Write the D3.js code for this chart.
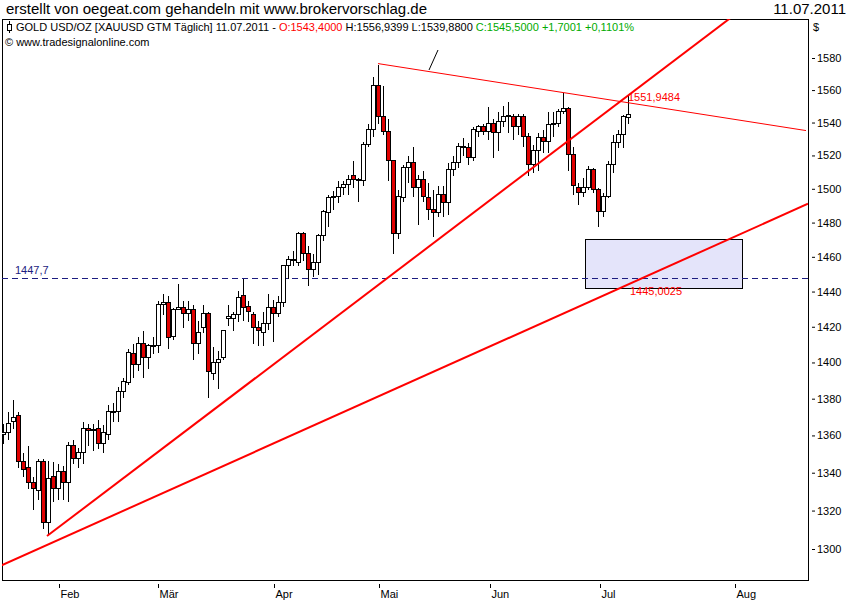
<!DOCTYPE html>
<html>
<head>
<meta charset="utf-8">
<script src="https://cdn.jsdelivr.net/npm/d3@7"></script>
<style>
  body { margin: 0; background: #fff; }
  text { font-family: "Liberation Sans", Arial, sans-serif; }
</style>
</head>
<body>
<div id="chart"></div>
<script>
// daily candles, 13.01.2011 .. 11.07.2011
const opens  = [1361,1362,1368,1371,1346,1343,1335,1331,1346,1314,1338,1332,1341,1335,1355,1348,1351,1364,1363,1364,1356,1361,1373,1373,1384,1389,1405,1399,1411,1403,1409,1410,1433,1434,1415,1430,1431,1428,1430,1411,1420,1428,1394,1400,1403,1425,1425,1427,1438,1432,1427,1420,1417,1422,1431,1428,1434,1455,1459,1457,1474,1462,1453,1457,1473,1486,1495,1496,1501,1503,1508,1506,1505,1527,1536,1563,1544,1535,1517,1474,1495,1513,1516,1501,1506,1495,1488,1486,1497,1492,1512,1516,1526,1525,1519,1535,1538,1535,1540,1534,1541,1544,1544,1538,1544,1532,1515,1523,1531,1529,1539,1540,1547,1549,1521,1501,1498,1501,1512,1500,1487,1496,1515,1528,1533,1543.4];
const highs  = [1367,1373,1380,1373,1351,1355,1338,1348,1348,1347,1346,1345,1344,1357,1358,1354,1368,1367,1367,1369,1366,1377,1378,1387,1392,1408,1411,1415,1418,1411,1415,1435,1439,1438,1431,1445,1435,1435,1433,1424,1433,1429,1409,1407,1419,1433,1429,1441,1448,1435,1429,1424,1429,1439,1436,1438,1456,1461,1464,1475,1475,1467,1462,1474,1488,1497,1499,1505,1505,1509,1517,1507,1529,1540,1569,1576,1563,1543,1518,1500,1515,1520,1526,1509,1511,1504,1500,1502,1502,1516,1520,1528,1531,1528,1538,1539,1540,1550,1543,1547,1551,1553,1546,1546,1546,1534,1527,1534,1536,1547,1547,1549,1559,1550,1526,1504,1507,1514,1513,1501,1498,1517,1533,1536,1545,1556.94];
const lows   = [1356,1358,1364,1343,1338,1332,1321,1326,1311,1308,1325,1326,1326,1325,1345,1343,1345,1355,1352,1353,1351,1358,1368,1368,1381,1388,1392,1396,1392,1397,1405,1406,1427,1408,1413,1430,1420,1424,1402,1405,1417,1381,1391,1386,1402,1421,1418,1423,1424,1423,1411,1410,1410,1419,1412,1426,1432,1448,1455,1455,1458,1444,1449,1450,1470,1478,1488,1492,1497,1497,1501,1493,1502,1526,1532,1540,1533,1505,1462,1471,1493,1504,1496,1479,1493,1482,1472,1484,1484,1485,1508,1513,1520,1515,1517,1532,1533,1530,1519,1523,1538,1534,1530,1533,1526,1508,1510,1511,1522,1522,1532,1538,1546,1511,1497,1491,1496,1500,1498,1478,1484,1495,1510,1525,1525,1539.88];
const closes = [1362,1367,1370,1346,1342,1335,1332,1346,1314,1337,1332,1341,1335,1355,1348,1351,1364,1363,1363.5,1356,1362,1373,1373.5,1384,1390,1406,1399,1411,1403,1410,1410,1433,1434,1414,1430,1431,1428,1430,1411,1417,1428,1395,1400,1402,1418,1426,1427,1437,1431,1429,1420,1418,1422,1431,1428,1434,1455,1459,1458,1474,1462,1453,1457,1473,1487,1495,1496,1501,1503,1506,1506,1505,1527,1536,1563,1544,1535,1517,1474,1496,1513,1516,1501,1506,1496,1488,1486,1497,1492,1512,1516,1526,1525.5,1519,1536,1538,1535,1540,1534,1541,1544,1544.5,1538,1544,1532,1515,1523,1531,1529,1539,1540,1547,1549,1521,1502,1498,1501,1512,1500,1487,1496,1515,1528,1533,1544,1545.5];

const monthLabels = ["Feb", "Mär", "Apr", "Mai", "Jun", "Jul", "Aug"];
const monthIndex  = [11.1, 31, 54.3, 75.3, 97.3, 119.4, 146.3];
const priceTicks  = [1300, 1320, 1340, 1360, 1380, 1400, 1420, 1440, 1460, 1480, 1500, 1520, 1540, 1560, 1580];

// drawing tools: [index, price] end points
const trendLines = [
  { from: [8.8, 1306.7], to: [145.6, 1605.6], w: 2 },
  { from: [-0.6, 1291.2], to: [161, 1491.1], w: 2 },
  { from: [75, 1576.5], to: [160.6, 1535.1], w: 1 }
];
const hLevel = 1447.7;
const zoneBox = { i0: 116.4, i1: 147.8, p0: 1470.5, p1: 1442.2 };

const W = 850, H = 600;
const plotL = 2, plotR = 808, plotT = 19, plotB = 580;

const svg = d3.select("#chart").append("svg").attr("width", W).attr("height", H);

const x = d3.scaleLinear().domain([0, 125]).range([3, 628]);
const y = d3.scaleLog().domain([1300, 1580]).range([549, 58]);
const py = v => Math.round(y(v)) + 0.5;

// header
svg.append("text").attr("x", 6).attr("y", 14).attr("font-size", 15)
  .text("erstellt von oegeat.com gehandeln mit www.brokervorschlag.de");
svg.append("text").attr("x", 846).attr("y", 14).attr("font-size", 15).attr("text-anchor", "end")
  .text("11.07.2011");

// plot frame
svg.append("rect").attr("x", plotL + 0.5).attr("y", plotT + 0.5).attr("width", plotR - plotL).attr("height", plotB - plotT)
  .attr("fill", "#fff").attr("stroke", "#000");

const defs = svg.append("defs");
defs.append("clipPath").attr("id", "plot").append("rect")
  .attr("x", plotL).attr("y", plotT).attr("width", plotR - plotL).attr("height", plotB - plotT);

const plot = svg.append("g").attr("clip-path", "url(#plot)");

// zone box
plot.append("rect")
  .attr("x", Math.round(x(zoneBox.i0)) + 0.5).attr("y", py(zoneBox.p0))
  .attr("width", Math.round(x(zoneBox.i1) - x(zoneBox.i0))).attr("height", Math.round(y(zoneBox.p1) - y(zoneBox.p0)))
  .attr("fill", "#e4e4fa").attr("stroke", "#000").attr("stroke-width", 1);

// horizontal level
plot.append("line").attr("x1", plotL).attr("x2", plotR)
  .attr("y1", py(hLevel)).attr("y2", py(hLevel))
  .attr("stroke", "#1c1c80").attr("stroke-dasharray", "6,4");
svg.append("text").attr("x", 15).attr("y", y(hLevel) - 4).attr("font-size", 11).attr("fill", "#1c1c80")
  .text("1447,7");

// candles
const idx = d3.range(closes.length);
const candles = plot.append("g").attr("shape-rendering", "crispEdges")
  .selectAll("g").data(idx).join("g");
candles.append("line")
  .attr("x1", i => Math.round(x(i)) + 0.5).attr("x2", i => Math.round(x(i)) + 0.5)
  .attr("y1", i => py(highs[i])).attr("y2", i => py(lows[i]))
  .attr("stroke", "#000");
candles.append("rect")
  .attr("x", i => Math.round(x(i)) - 1.5)
  .attr("width", 4)
  .attr("y", i => py(Math.max(opens[i], closes[i])))
  .attr("height", i => Math.max(1, py(Math.min(opens[i], closes[i])) - py(Math.max(opens[i], closes[i]))))
  .attr("fill", i => closes[i] < opens[i] ? "#e00000" : "#fff")
  .attr("stroke", "#000").attr("stroke-width", 1);

// trend lines
plot.selectAll("line.trend").data(trendLines).join("line").attr("class", "trend")
  .attr("x1", d => x(d.from[0])).attr("y1", d => y(d.from[1]))
  .attr("x2", d => x(d.to[0])).attr("y2", d => y(d.to[1]))
  .attr("stroke", "#f00").attr("stroke-width", d => d.w);

// leader line to the legend
plot.append("line").attr("x1", 429).attr("y1", 70).attr("x2", 438).attr("y2", 50)
  .attr("stroke", "#000");

svg.append("text").attr("x", 628).attr("y", 101).attr("font-size", 11).attr("fill", "#f00").text("1551,9484");
svg.append("text").attr("x", 630).attr("y", 295).attr("font-size", 11).attr("fill", "#f00").text("1445,0025");

// legend line
const leg = svg.append("text").attr("x", 16).attr("y", 31).attr("font-size", 11);
leg.append("tspan").text("GOLD USD/OZ [XAUUSD GTM  Täglich] 11.07.2011 - ");
leg.append("tspan").attr("fill", "#f00").text("O:1543,4000");
leg.append("tspan").text(" H:1556,9399 L:1539,8800 ");
leg.append("tspan").attr("fill", "#0a0").text("C:1545,5000 +1,7001 +0,1101%");
svg.append("line").attr("x1", 9.5).attr("x2", 9.5).attr("y1", 21).attr("y2", 33).attr("stroke", "#000");
svg.append("rect").attr("x", 7.5).attr("y", 24.5).attr("width", 4).attr("height", 6).attr("fill", "#fff").attr("stroke", "#000");
svg.append("text").attr("x", 5).attr("y", 46).attr("font-size", 11).text("© www.tradesignalonline.com");

// y axis
svg.append("text").attr("x", 813).attr("y", 31).attr("font-size", 11).text("$");
const yAxis = svg.append("g").attr("transform", `translate(${plotR},0)`)
  .call(d3.axisRight(y).tickValues(priceTicks).tickSize(0).tickPadding(0).tickFormat(d3.format("d")));
yAxis.select(".domain").remove();
yAxis.selectAll(".tick line").attr("x1", 4).attr("x2", 7).attr("stroke", "#000");
yAxis.selectAll(".tick text").attr("x", 9).attr("font-size", 11).attr("font-family", "Liberation Sans, Arial").attr("fill", "#000");

// x axis
const xg = svg.append("g").selectAll("g").data(monthIndex).join("g")
  .attr("transform", d => `translate(${Math.round(x(d)) + 0.5},0)`);
xg.append("line").attr("y1", 584).attr("y2", 588).attr("stroke", "#000");
xg.append("text").attr("x", 1).attr("y", 598).attr("font-size", 11).text((d, i) => monthLabels[i]);
</script>
</body>
</html>
